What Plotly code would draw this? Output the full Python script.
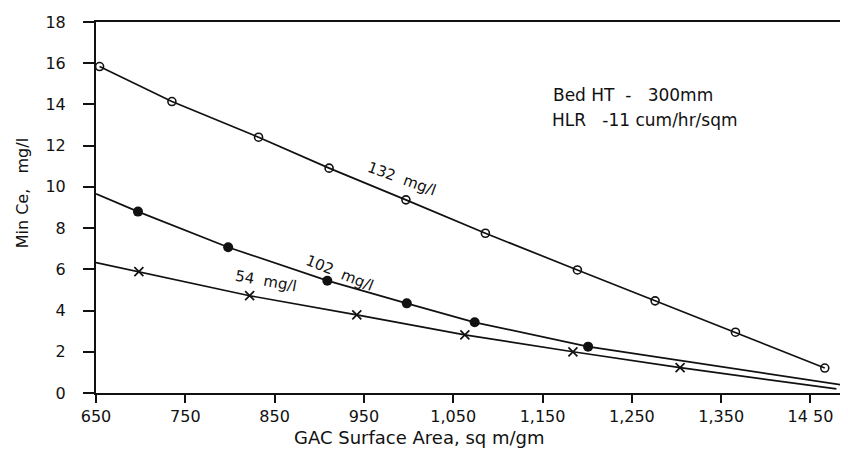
import plotly.graph_objects as go

# ---- data ----
x132 = [654, 735, 832, 911, 997, 1086, 1189, 1276, 1366, 1466]
y132 = [15.84, 14.14, 12.41, 10.91, 9.37, 7.75, 5.97, 4.47, 2.95, 1.21]

x102 = [697, 798, 909, 998, 1074, 1201]
y102 = [8.80, 7.07, 5.45, 4.35, 3.43, 2.25]
x102_line = [650, 697, 798, 909, 998, 1074, 1201, 1485]
y102_line = [9.66, 8.80, 7.07, 5.45, 4.35, 3.43, 2.25, 0.39]

x54 = [698, 822, 942, 1063, 1184, 1304]
y54 = [5.89, 4.72, 3.79, 2.82, 2.00, 1.23]
x54_line = [650, 698, 822, 942, 1063, 1184, 1304, 1479]
y54_line = [6.33, 5.89, 4.72, 3.79, 2.82, 2.00, 1.23, 0.20]

x_tickvals = [650, 750, 850, 950, 1050, 1150, 1250, 1350, 1450]
x_ticktext = ["650", "750", "850", "950", "1,050", "1,150", "1,250", "1,350", "14 50"]
y_tickvals = [0, 2, 4, 6, 8, 10, 12, 14, 16, 18]

FONT = "DejaVu Sans"
INK = "#111111"

fig = go.Figure()
line_style = dict(color=INK, width=1.7)

fig.add_trace(go.Scatter(x=x132, y=y132, mode="lines+markers", line=line_style,
                         marker=dict(symbol="circle-open", size=8, color=INK, line=dict(width=1.6)),
                         showlegend=False))
fig.add_trace(go.Scatter(x=x102_line, y=y102_line, mode="lines", line=line_style, showlegend=False))
fig.add_trace(go.Scatter(x=x102, y=y102, mode="markers",
                         marker=dict(symbol="circle", size=10, color=INK), showlegend=False))
fig.add_trace(go.Scatter(x=x54_line, y=y54_line, mode="lines", line=line_style, showlegend=False))
fig.add_trace(go.Scatter(x=x54, y=y54, mode="markers",
                         marker=dict(symbol="x-thin", size=9, color=INK, line=dict(width=1.7, color=INK)),
                         showlegend=False))

NB = "\u00a0"
annos = [
    dict(x=993, y=10.39, text="132" + NB + NB + "mg/l", textangle=20, size=15),
    dict(x=923, y=5.83, text="102" + NB + NB + "mg/l", textangle=22, size=15),
    dict(x=840, y=5.44, text="54" + NB + NB + "mg/l", textangle=10, size=15),
]
for a in annos:
    fig.add_annotation(xref="x", yref="y", showarrow=False, x=a["x"], y=a["y"], text=a["text"],
                       textangle=a["textangle"], xanchor="center", yanchor="middle",
                       font=dict(family=FONT, size=a["size"], color=INK))

fig.add_annotation(xref="x", yref="y", x=1160, y=14.47, showarrow=False,
                   text="Bed HT" + NB + NB + "-" + NB * 3 + "300mm", xanchor="left", yanchor="middle",
                   font=dict(family=FONT, size=17, color=INK))
fig.add_annotation(xref="x", yref="y", x=1158, y=13.25, showarrow=False,
                   text="HLR" + NB * 3 + "-11 cum/hr/sqm", xanchor="left", yanchor="middle",
                   font=dict(family=FONT, size=17, color=INK))

# axis titles
fig.add_annotation(xref="paper", yref="paper", x=-0.098, y=0.539, textangle=-90,
                   text="Min Ce," + NB * 3 + "mg/l", showarrow=False,
                   xanchor="center", yanchor="middle",
                   font=dict(family=FONT, size=16, color=INK))
fig.add_annotation(xref="paper", yref="paper", x=0.43, y=-0.1186,
                   text="GAC Surface Area, sq m/gm", showarrow=False,
                   xanchor="center", yanchor="middle",
                   font=dict(family=FONT, size=18, color=INK))

# the page body adds an 8px offset; size the figure so the plot area lands where the reference has it
fig.update_layout(
    width=840, height=447,
    margin=dict(l=88, r=0, t=14, b=62),
    paper_bgcolor="white", plot_bgcolor="white",
    font=dict(family=FONT, size=15, color=INK),
)
fig.update_xaxes(range=[650, 1492], tickvals=x_tickvals, ticktext=x_ticktext,
                 showgrid=False, zeroline=False, showline=True, linecolor=INK, linewidth=2,
                 mirror=True, ticks="outside", ticklen=8, tickwidth=1.7, tickcolor=INK,
                 tickfont=dict(family=FONT, size=16, color=INK))
fig.update_yaxes(range=[0, 18], tickvals=y_tickvals,
                 showgrid=False, zeroline=False, showline=True, linecolor=INK, linewidth=2,
                 ticks="outside", ticklen=11, tickwidth=1.7, tickcolor=INK, ticklabelstandoff=14,
                 tickfont=dict(family=FONT, size=16, color=INK))

fig.write_html("out.html")
